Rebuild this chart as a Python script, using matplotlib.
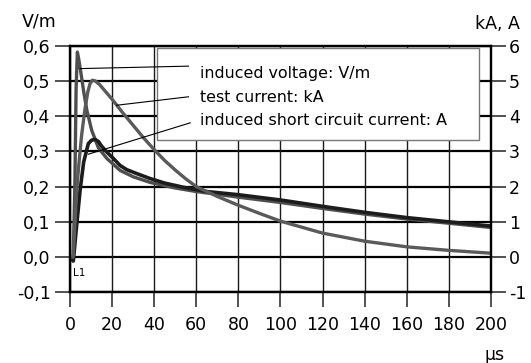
import matplotlib
matplotlib.use("Agg")
import matplotlib.pyplot as plt
import numpy as np

plt.rcParams['font.family'] = ['DejaVu Sans']
plt.rcParams['axes.unicode_minus'] = False

# induced voltage, V/m (left axis)
t_volt = [0, 1.5, 2.3, 2.9, 3.5, 4.2, 5, 6.5, 8, 10.3, 13.5, 17.5, 23.8, 30, 38, 50, 60, 80, 100, 120, 140, 160, 180, 200]
volt = [0, -0.012, 0.2, 0.48, 0.582, 0.56, 0.53, 0.47, 0.417, 0.36, 0.31, 0.28, 0.246, 0.228, 0.212, 0.196, 0.186, 0.17, 0.155, 0.138, 0.122, 0.108, 0.096, 0.084]

# test current, kA (right axis)
t_test = [0, 1.5, 3.2, 4, 5.5, 7.1, 8.5, 9.5, 10.6, 12, 14, 16, 20, 25, 30, 35, 40, 45, 50, 55, 60, 70, 80, 90, 100, 120, 140, 160, 180, 200]
test = [0, 0, 1.9, 2.5, 3.45, 4.2, 4.7, 4.92, 5.02, 5.0, 4.9, 4.76, 4.48, 4.1, 3.74, 3.38, 3.05, 2.74, 2.47, 2.22, 2.0, 1.72, 1.47, 1.24, 1.02, 0.68, 0.45, 0.29, 0.19, 0.11]

# induced short circuit current, A (right axis)
t_short = [0, 1.6, 3, 4.8, 6.5, 8.7, 10.3, 11.9, 13.5, 15, 17.5, 20.6, 23.8, 27, 31.7, 38, 45, 54, 65, 80, 100, 120, 140, 160, 180, 200]
short = [0, -0.1, 0.8, 1.9, 2.7, 3.22, 3.32, 3.34, 3.28, 3.15, 2.98, 2.8, 2.6, 2.48, 2.37, 2.23, 2.1, 1.98, 1.86, 1.77, 1.62, 1.44, 1.27, 1.12, 1.0, 0.88]

x_ticks = list(range(0, 201, 20))
left_ticks = [-0.1, 0.0, 0.1, 0.2, 0.3, 0.4, 0.5, 0.6]
left_labels = ['-0,1', '0,0', '0,1', '0,2', '0,3', '0,4', '0,5', '0,6']
right_ticks = [-1, 0, 1, 2, 3, 4, 5, 6]

legend_text = ['induced voltage: V/m', 'test current: kA', 'induced short circuit current: A']

W, H = 531, 363
fig = plt.figure(figsize=(W / 100, H / 100), dpi=100)
ax = fig.add_axes([70 / W, 1 - 292.3 / H, (491 - 70) / W, (292.3 - 45.7) / H])
ax2 = ax.twinx()

ax.set_xlim(0, 200)
ax.set_ylim(-0.1, 0.6)
ax2.set_ylim(-1, 6)

ax.set_xticks(x_ticks)
ax.set_yticks(left_ticks)
ax.set_yticklabels(left_labels)
ax2.set_yticks(right_ticks)

for y in left_ticks:
    ax.axhline(y, color='black', lw=1.6, zorder=1)
for x in x_ticks:
    ax.axvline(x, color='#1a1a1a', lw=1.0, zorder=1)

for a in (ax, ax2):
    for s in a.spines.values():
        s.set_linewidth(1.6)
        s.set_color('black')
    a.tick_params(direction='out', length=11, width=1.2, color='#333333', labelsize=12.5)
ax.tick_params(axis='y', pad=3)
ax.tick_params(axis='x', pad=6)
ax2.tick_params(axis='y', pad=2)

# right-axis data plotted in left-axis units (1 unit = 0.1 V/m)
kw = dict(solid_joinstyle='round', solid_capstyle='round')
ax.plot(t_volt, volt, color='#4e4e4e', lw=2.4, zorder=3, **kw)
ax.plot(t_short, np.array(short) / 10, color='#1c1c1c', lw=2.6, zorder=4, **kw)
ax.plot(t_test, np.array(test) / 10, color='#5a5a5a', lw=2.4, zorder=5, **kw)

# legend box with leader lines
box = plt.Rectangle((41.4, 0.331), 194.3 - 41.4, 0.593 - 0.331, facecolor='white',
                    edgecolor='#777777', lw=1.0, zorder=6)
ax.add_patch(box)
for txt, yv in zip(legend_text, [0.522, 0.454, 0.388]):
    ax.text(61.9, yv, txt, fontsize=11.4, va='center', ha='left', zorder=8)
leaders = [((56.3, 4.8), (0.542, 0.535)),
           ((56.3, 22.2), (0.455, 0.431)),
           ((57.1, 8.7), (0.381, 0.292))]
for xs, ys in leaders:
    ax.plot(xs, ys, color='black', lw=0.8, zorder=9, clip_on=False)

ax.text(1.5, -0.055, 'L1', fontsize=7.5, zorder=8)

fig.text(22 / W, 1 - 22 / H, 'V/m', fontsize=12.5, va='center', ha='left')
fig.text(520 / W, 1 - 24 / H, 'kA, A', fontsize=12.5, va='center', ha='right')
fig.text(505 / W, 1 - 355 / H, 'µs', fontsize=12.5, va='center', ha='right')

fig.savefig('out.png', dpi=100, facecolor='white')
